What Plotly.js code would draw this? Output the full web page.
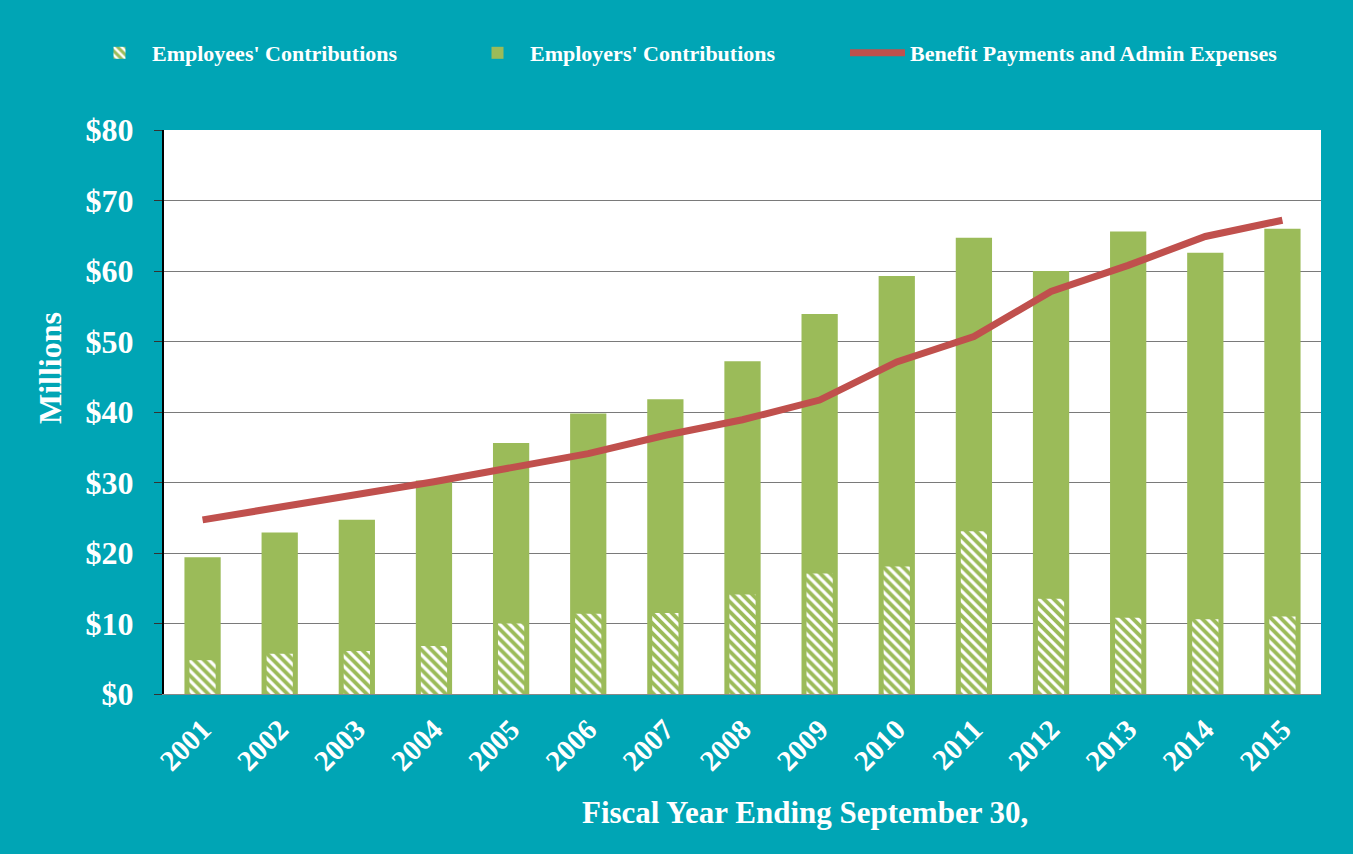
<!DOCTYPE html>
<html>
<head>
<meta charset="utf-8">
<script src="https://cdn.plot.ly/plotly-3.0.1.min.js"></script>
<style>html,body{margin:0;padding:0;background:#00A5B5;}#chart{width:1353px;height:854px;}</style>
</head>
<body>
<div id="chart"></div>
<script>
// Fiscal years
const years = ["2001","2002","2003","2004","2005","2006","2007","2008","2009","2010","2011","2012","2013","2014","2015"];
// Employees' contributions ($ millions)
const employees = [4.8, 5.7, 6.1, 6.8, 10.0, 11.4, 11.5, 14.1, 17.1, 18.1, 23.1, 13.5, 10.8, 10.6, 11.0];
// Employers' contributions ($ millions)
const employers = [14.6, 17.2, 18.6, 23.5, 25.6, 28.4, 30.3, 33.1, 36.8, 41.2, 41.6, 46.5, 54.8, 52.0, 55.0];
// Benefit payments and admin expenses ($ millions)
const benefits = [24.7, 26.6, 28.3, 30.1, 32.2, 34.1, 36.7, 38.9, 41.7, 47.1, 50.7, 57.1, 60.8, 64.9, 67.2];

const totals = employees.map((v, i) => v + employers[i]);

const GREEN = '#9BBB59';
const RED = '#C0504D';
const TEAL = '#00A5B5';
const FONT = {family: 'Liberation Serif, Times New Roman, serif', color: 'white', weight: 'bold'};

const traces = [
  {
    type: 'bar', name: "Employers' Contributions", x: years, y: totals,
    width: 0.47, marker: {color: GREEN, line: {width: 0}}, legend: 'legend2',
    hoverinfo: 'skip'
  },
  {
    type: 'bar', name: "Employees' Contributions", x: years, y: employees,
    width: 0.34,
    marker: {color: GREEN, line: {width: 0},
      pattern: {shape: '\\', fgcolor: 'white', bgcolor: GREEN, size: 7, solidity: 0.45, fillmode: 'replace'}},
    legend: 'legend', hoverinfo: 'skip'
  },
  {
    type: 'scatter', mode: 'lines', name: 'Benefit Payments and Admin Expenses', x: years, y: benefits,
    line: {color: RED, width: 7}, legend: 'legend3', hoverinfo: 'skip'
  }
];

function legendAt(px) {
  return {
    orientation: 'h', xref: 'container', yref: 'container',
    x: px / 1353, xanchor: 'left', y: 1 - 53 / 854, yanchor: 'middle',
    font: Object.assign({}, FONT, {size: 22}),
    bgcolor: 'rgba(0,0,0,0)', itemwidth: 55
  };
}

const layout = {
  width: 1353, height: 854,
  paper_bgcolor: TEAL, plot_bgcolor: 'white',
  margin: {l: 164, r: 32, t: 130, b: 160},
  barmode: 'overlay',
  showlegend: true,
  legend: legendAt(87),
  legend2: legendAt(465),
  legend3: legendAt(845),
  xaxis: {
    type: 'category', range: [-0.5, 14.5],
    tickangle: -45, tickfont: Object.assign({}, FONT, {size: 29}),
    showgrid: false, showline: true, linecolor: '#888888', linewidth: 1,
    ticks: '', ticklabelstandoff: 6, fixedrange: true
  },
  yaxis: {
    range: [0, 80], dtick: 10, tickprefix: '$',
    tickfont: Object.assign({}, FONT, {size: 32}),
    showgrid: true, gridcolor: '#7a7a7a', gridwidth: 1,
    zeroline: false,
    showline: true, linecolor: 'black', linewidth: 2,
    ticks: 'outside', ticklen: 8, tickcolor: '#333333', tickwidth: 1,
    ticklabelstandoff: 14, fixedrange: true
  },
  annotations: [
    {text: 'Fiscal Year Ending September 30,', xref: 'paper', yref: 'paper',
     x: (805 - 164) / 1157, y: -(812 - 694) / 564, xanchor: 'center', yanchor: 'middle',
     showarrow: false, font: Object.assign({}, FONT, {size: 31})},
    {text: 'Millions', xref: 'paper', yref: 'paper', textangle: -90,
     x: (50 - 164) / 1157, y: (694 - 368) / 564, xanchor: 'center', yanchor: 'middle',
     showarrow: false, font: Object.assign({}, FONT, {size: 32})}
  ]
};

Plotly.newPlot('chart', traces, layout, {displayModeBar: false, staticPlot: true});
</script>
</body>
</html>
